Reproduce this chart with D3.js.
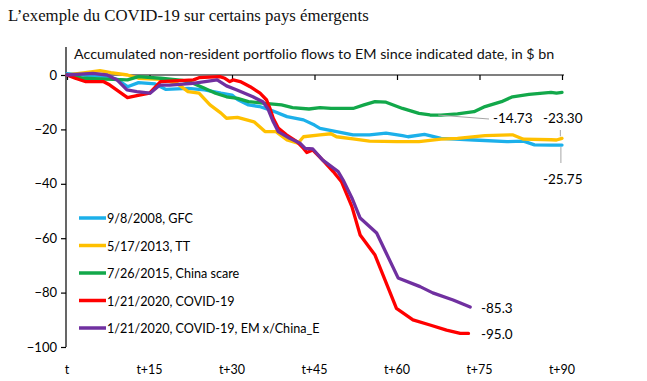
<!DOCTYPE html>
<html>
<head>
<meta charset="utf-8">
<script src="https://cdn.jsdelivr.net/npm/d3@7"></script>
<style>
  body { margin: 0; background: #fff; }
  svg { display: block; }
</style>
</head>
<body>
<div id="chart"></div>
<script>
// days after the indicated date, accumulated flows in $ bn
const gfc = [[0,0.5],[3,0],[7,-0.6],[9,-1.5],[11,-4.3],[13,-2.8],[16,-3.3],[18,-5.3],[22,-4.9],[25,-5.5],[28,-6.7],[30,-7.4],[31,-9],[33,-11],[35,-11.6],[37,-12.9],[40,-15.3],[43,-16.5],[45,-18.4],[46,-19.6],[49,-20.8],[52,-22],[55,-22],[58,-21.4],[61,-22.3],[62,-22.7],[65,-21.8],[68,-23.3],[74,-23.9],[80,-24.5],[83,-24.3],[85,-25.7],[88,-25.8],[90,-25.75]]
const tt = [[0,0],[3,0.8],[6,1.6],[8,0.9],[11,0],[13,-1.2],[17,-1.6],[20,-3.1],[22,-6.1],[24,-6.7],[26,-11],[28,-14],[29,-15.9],[31,-15.6],[34,-17.2],[36,-20.8],[38,-20.8],[40,-23.9],[42,-25.1],[43,-22.7],[46,-22],[48,-21.6],[49,-22.7],[52,-23.5],[55,-24.3],[60,-24.5],[64,-24.5],[68,-23.6],[71,-23.3],[76,-22.3],[81,-22],[83,-23.6],[88,-23.8],[89,-23.9],[90,-23.3]]
const china = [[0,0],[3,-1.2],[7,-1.5],[11,-1.8],[13,-0.6],[17,-1.2],[21,-2],[23,-3.1],[25,-4.9],[27,-6.7],[29,-8],[31,-8.6],[33,-9.8],[36,-10.4],[39,-11],[41,-12],[44,-12.5],[46,-12],[48,-12.3],[52,-12.3],[54,-11],[56,-9.8],[58,-10],[61,-12.3],[64,-14.1],[66,-14.7],[68,-14.73],[71,-14.3],[74,-13.5],[76,-11.6],[79,-9.8],[81,-8],[84,-7.1],[88,-6.4],[89,-6.7],[90,-6.4]]
const covid = [[0,0],[1.5,-1.2],[3.3,-2.4],[6.6,-2.4],[7.8,-3.7],[11,-8.3],[12.7,-7.6],[15,-6.7],[17,-2.4],[23,-1.8],[24,-1],[27.8,-0.6],[28.7,-1.2],[29.6,-2.4],[30.2,-1.8],[31.5,-2.4],[33.3,-4.3],[35.1,-6.7],[36.3,-9.2],[36.9,-12.3],[37.5,-15.9],[38.4,-19.5],[39.9,-22],[41.8,-24.5],[43,-27],[43.6,-28.5],[44.7,-27.6],[46.5,-31.3],[48.4,-35.5],[49.9,-39.2],[51.8,-48.4],[53.3,-58.8],[56,-66.2],[59.9,-85.8],[62.9,-90],[66,-91.9],[69,-93.8],[71.5,-95],[73,-95]]
const covidExChina = [[0,0],[4.7,0.6],[7.3,0],[9.1,-1.8],[10.9,-5.5],[12.7,-6.1],[15.1,-6.7],[16.9,-3.7],[18.7,-3.7],[22.9,-3.1],[27.3,-1.8],[29,-4],[30.9,-5.5],[33.8,-8],[35.6,-9.8],[36.5,-12.3],[37.5,-17.2],[38.4,-20.8],[40.5,-23.3],[42.4,-25.1],[43.3,-27],[44.7,-27.2],[46.5,-31.3],[49.3,-35.5],[50.2,-38.6],[51.8,-45.2],[53.3,-52.6],[56.3,-58.1],[60.2,-74.6],[64.2,-77.8],[66.5,-80.1],[70.2,-82.7],[73.3,-85.3]]

const seriesNames = ["9/8/2008, GFC", "5/17/2013, TT", "7/26/2015, China scare", "1/21/2020, COVID-19", "1/21/2020, COVID-19, EM x/China_E"]
const seriesColors = ["#1cb0ea", "#ffc000", "#12a84a", "#ff0000", "#7030a0"]
const xTicks = [0, 15, 30, 45, 60, 75, 90]
const xTickLabels = ["t", "t+15", "t+30", "t+45", "t+60", "t+75", "t+90"]
const yTicks = [0, -20, -40, -60, -80, -100]

const W = 647, H = 381
const font = "Lato, 'Noto Sans', sans-serif"

const svg = d3.select("#chart").append("svg")
  .attr("width", W).attr("height", H)

svg.append("text")
  .attr("x", 8).attr("y", 21)
  .style("font-family", "'Liberation Serif', serif")
  .style("font-size", "16.8px")
  .attr("fill", "#111")
  .text("L\u2019exemple du COVID-19 sur certains pays émergents")

const x = d3.scaleLinear().domain([0, 90]).range([67, 562])
const y = d3.scaleLinear().domain([0, -100]).range([75, 347])

// y axis
const yAxis = svg.append("g").attr("transform", "translate(66,0)")
  .call(d3.axisLeft(y).tickValues(yTicks).tickSize(5).tickPadding(4))
yAxis.select(".domain").remove()
yAxis.append("line").attr("x1", 0).attr("x2", 0).attr("y1", 47).attr("y2", y(-100))
  .attr("stroke", "#000").attr("stroke-width", 1.2)
yAxis.selectAll(".tick line").attr("stroke-width", 1.2)
yAxis.selectAll("text").style("font-family", font).style("font-size", "13px").attr("fill", "#000")

// x axis at zero line, labels at bottom
const xAxis = svg.append("g").attr("transform", `translate(0,${y(0)})`)
  .call(d3.axisBottom(x).tickValues(xTicks).tickSize(5).tickFormat(""))
xAxis.select(".domain").attr("d", `M${x(0) - 1},0H${x(90) + 2}`).attr("stroke-width", 1.2)
xAxis.selectAll(".tick line").attr("stroke-width", 1.2)

svg.append("g").selectAll("text").data(xTicks).join("text")
  .attr("x", d => x(d)).attr("y", 374)
  .attr("text-anchor", "middle")
  .style("font-family", font).style("font-size", "12.5px")
  .text((d, i) => xTickLabels[i])

svg.append("text")
  .attr("x", 74).attr("y", 59)
  .style("font-family", font).style("font-size", "14.3px")
  .attr("fill", "#111")
  .text("Accumulated non-resident portfolio flows to EM since indicated date, in $ bn")

// lines
const line = d3.line().x(d => x(d[0])).y(d => y(d[1]))
const allSeries = [gfc, tt, china, covid, covidExChina]
svg.append("g").selectAll("path").data(allSeries).join("path")
  .attr("d", line)
  .attr("fill", "none")
  .attr("stroke", (d, i) => seriesColors[i])
  .attr("stroke-width", 3.3)
  .attr("stroke-linejoin", "round")
  .attr("stroke-linecap", "round")

// legend
const legend = svg.append("g").selectAll("g").data(seriesNames).join("g")
  .attr("transform", (d, i) => `translate(79,${218 + i * 27.5})`)
legend.append("line").attr("x1", 0).attr("x2", 27)
  .attr("stroke", (d, i) => seriesColors[i]).attr("stroke-width", 3.5)
legend.append("text").attr("x", 28).attr("y", 5)
  .style("font-family", font).style("font-size", "12.6px")
  .text(d => d)

// annotations
const grey = "#a6a6a6"
const ann = svg.append("g").style("font-family", font).style("font-size", "13.5px")
ann.append("line").attr("x1", x(67.5)).attr("y1", y(-14.73)).attr("x2", 489).attr("y2", 119)
  .attr("stroke", grey).attr("stroke-width", 1)
ann.append("text").attr("x", 493).attr("y", 123).text("-14.73")
ann.append("line").attr("x1", x(89.7)).attr("y1", y(-23.3) - 2).attr("x2", x(89.7)).attr("y2", 130)
  .attr("stroke", grey).attr("stroke-width", 1)
ann.append("text").attr("x", 543).attr("y", 123).text("-23.30")
ann.append("line").attr("x1", x(89.8)).attr("y1", y(-25.75) + 2).attr("x2", x(89.8)).attr("y2", 163)
  .attr("stroke", grey).attr("stroke-width", 1)
ann.append("text").attr("x", 543).attr("y", 184).text("-25.75")
ann.append("text").attr("x", 481).attr("y", 313).text("-85.3")
ann.append("text").attr("x", 481).attr("y", 339).text("-95.0")
</script>
</body>
</html>
